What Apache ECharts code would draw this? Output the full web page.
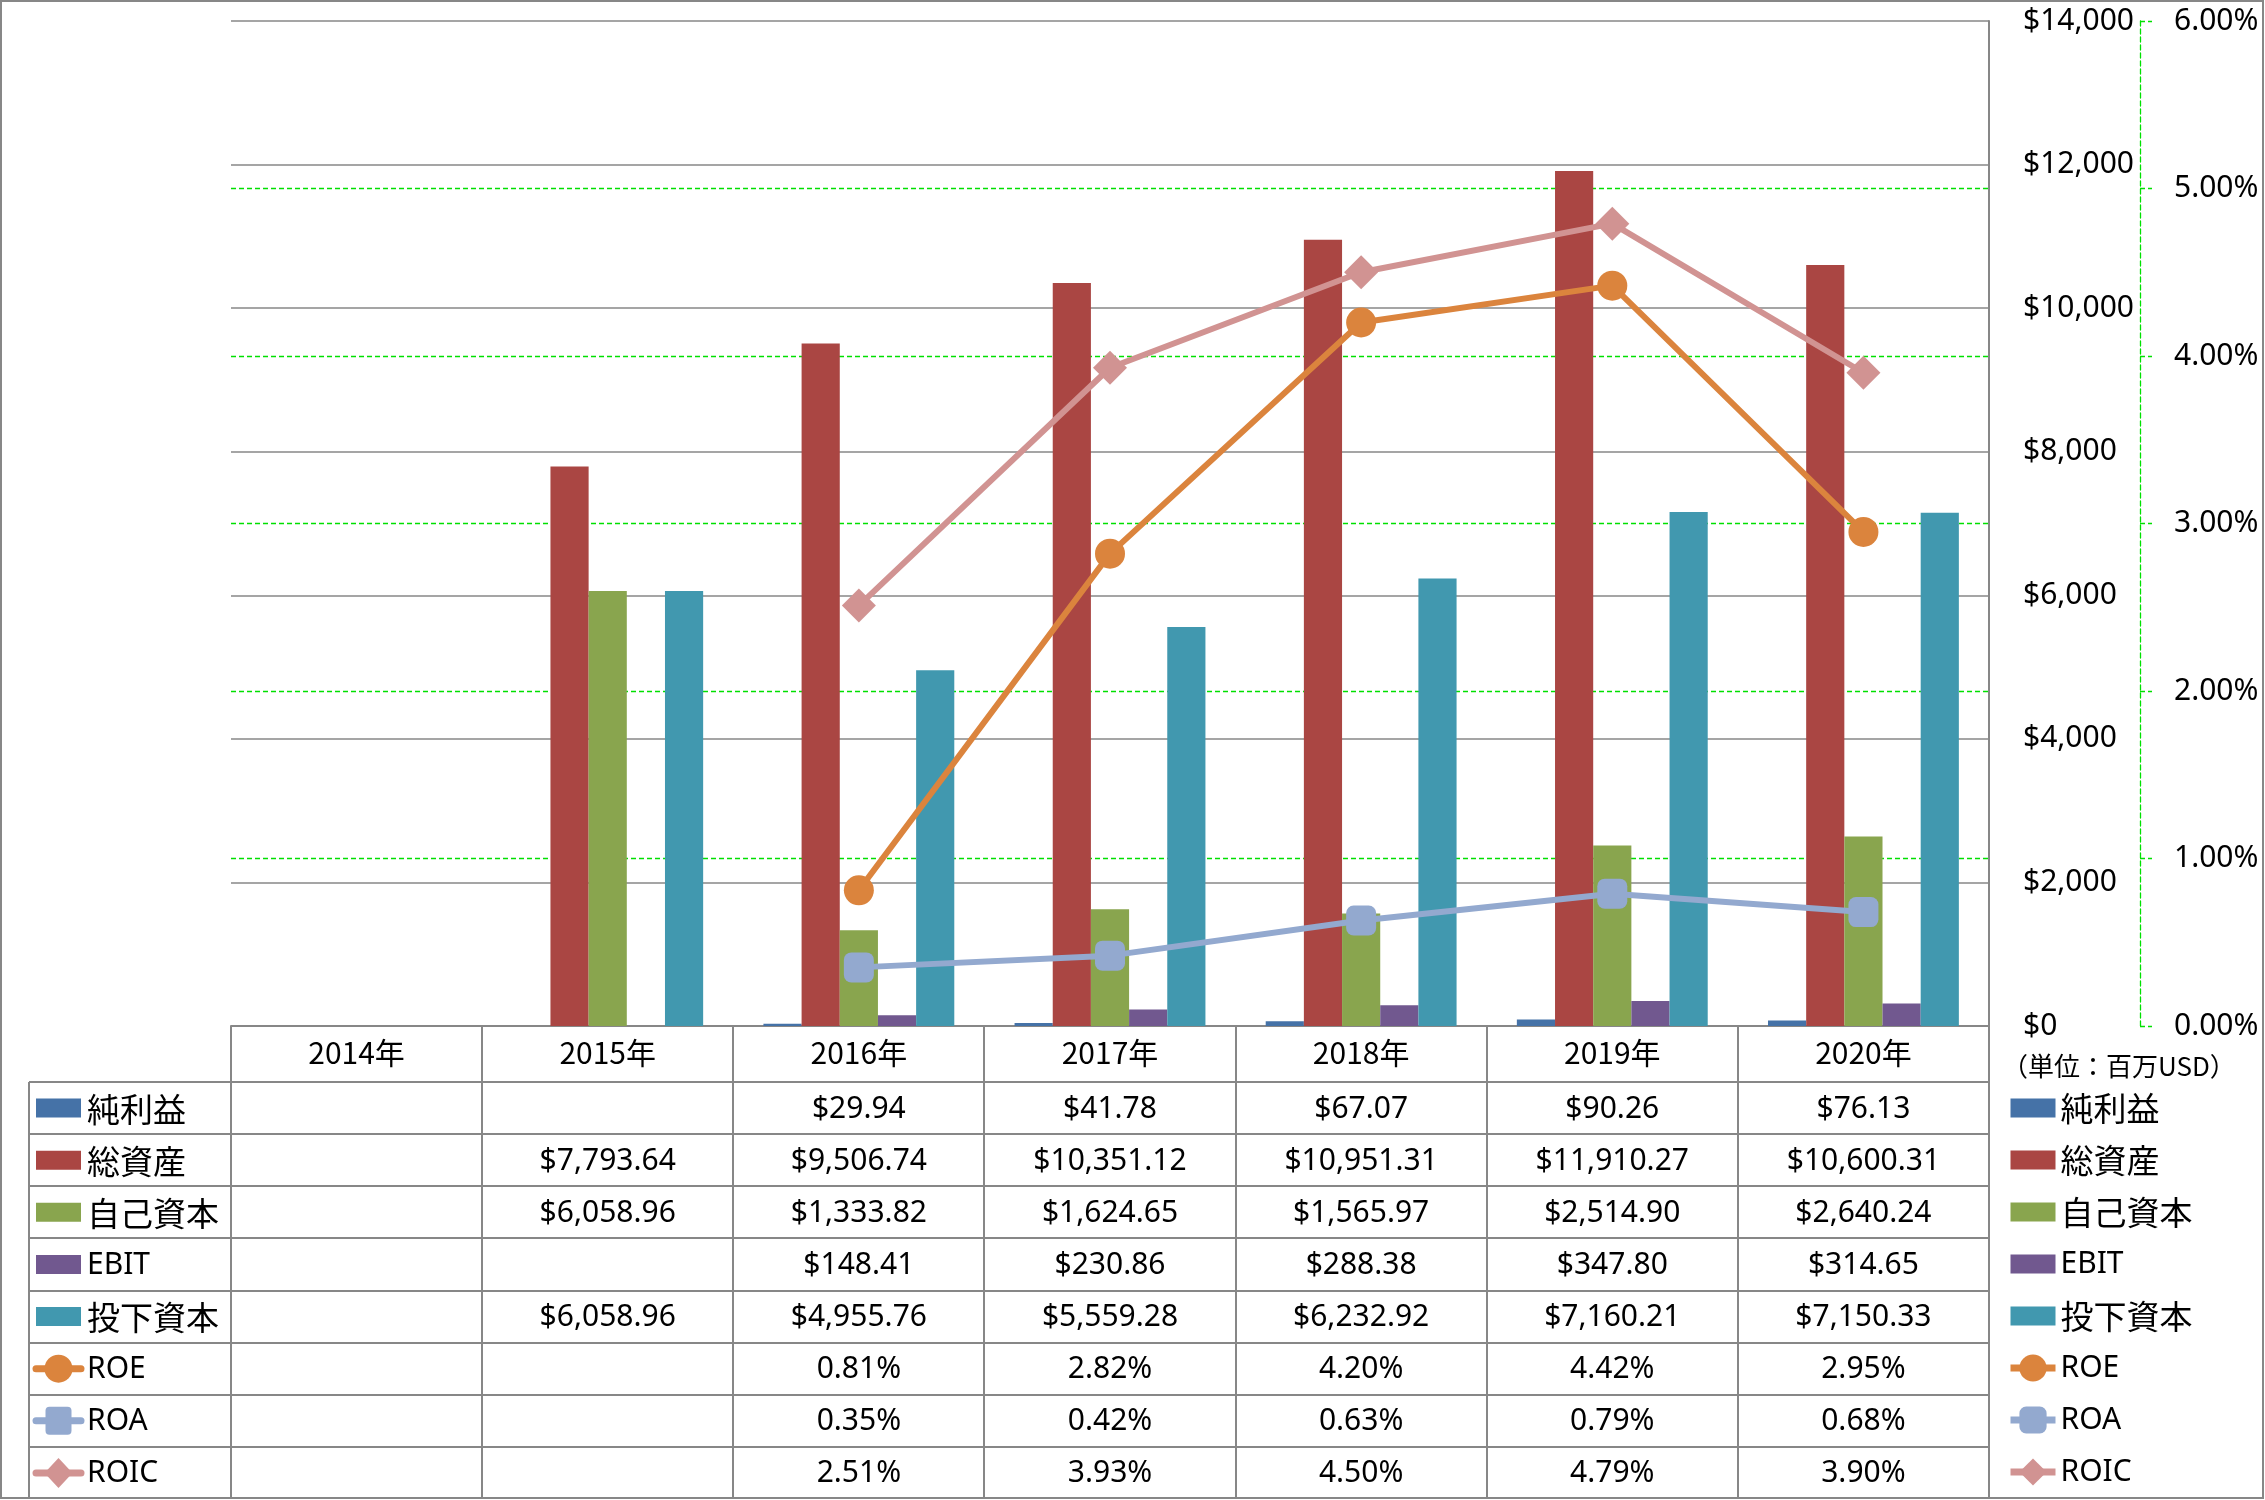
<!DOCTYPE html>
<html><head><meta charset="utf-8">
<script src="https://cdn.jsdelivr.net/npm/echarts@6/dist/echarts.min.js"></script>
<style>html,body{margin:0;padding:0;background:#fff}#c{width:2265px;height:1500px}</style>
</head><body><div id="c"></div>
<script>
const categories = ['2014年','2015年','2016年','2017年','2018年','2019年','2020年'];
const netIncome = [null,null,29.94,41.78,67.07,90.26,76.13];
const totalAssets = [null,7793.64,9506.74,10351.12,10951.31,11910.27,10600.31];
const equity = [null,6058.96,1333.82,1624.65,1565.97,2514.90,2640.24];
const ebit = [null,null,148.41,230.86,288.38,347.80,314.65];
const investedCapital = [null,6058.96,4955.76,5559.28,6232.92,7160.21,7150.33];
const roe = [null,null,0.81,2.82,4.20,4.42,2.95];
const roa = [null,null,0.35,0.42,0.63,0.79,0.68];
const roic = [null,null,2.51,3.93,4.50,4.79,3.90];
const seriesNames = ['純利益','総資産','自己資本','EBIT','投下資本','ROE','ROA','ROIC'];
const unitLabel = '（単位：百万USD）';

const COLORS = ['#4572A7','#AA4643','#89A54E','#71588F','#4198AF','#DB843D','#93A9CF','#D19392'];
const GRAY = '#878787';
const GREEN = '#00e000';
const FONT = "'Noto Sans', 'Noto Sans CJK JP', sans-serif";
const CJKFONT = "'Noto Sans CJK JP', 'Noto Sans', sans-serif";

const barData = [netIncome, totalAssets, equity, ebit, investedCapital];
const lineData = [roe, roa, roic];
const lineSymbols = ['circle','roundRect','diamond'];
const lineSymbolSizes = [30, 30, 34];

function money(v){ return v == null ? '' : '$' + v.toLocaleString('en-US',{minimumFractionDigits:2, maximumFractionDigits:2}); }
function pct(v){ return v == null ? '' : v.toFixed(2) + '%'; }
function isLatin(n){ return /^[A-Za-z]+$/.test(n); }

const chart = echarts.init(document.getElementById('c'), null, {renderer:'canvas'});

const series = [];
barData.forEach((d,i)=>{
  series.push({name:seriesNames[i], type:'bar', yAxisIndex:0, data:d, barGap:'0%', barCategoryGap:'24%',
    itemStyle:{color:COLORS[i]}});
});
lineData.forEach((d,i)=>{
  series.push({name:seriesNames[5+i], type:'line', yAxisIndex:1, data:d,
    symbol:lineSymbols[i], symbolSize:lineSymbolSizes[i], showAllSymbol:true,
    lineStyle:{color:COLORS[5+i], width:6}, itemStyle:{color:COLORS[5+i]}, z:3});
});

const legendData = seriesNames.map((n,i)=> i < 5 ? {name:n, icon:'path://M0,0H45V19H0Z'} : {name:n});

chart.setOption({
  animation:false,
  backgroundColor:'#fff',
  textStyle:{fontFamily:FONT},
  grid:{left:231, right:276, top:21, bottom:474, containLabel:false},
  legend:{
    orient:'vertical', left:2007, top:1088, padding:0, itemWidth:45, itemHeight:34, itemGap:12,
    data: legendData,
    lineStyle:{width:7},
    formatter: n => isLatin(n) ? '{l|'+n+'}' : '{c|'+n+'}',
    textStyle:{color:'#000', lineHeight:40,
      rich:{ l:{fontSize:30, lineHeight:40, fontFamily:FONT, color:'#000'},
             c:{fontSize:33, lineHeight:40, fontFamily:CJKFONT, color:'#000'} } }
  },
  xAxis:{type:'category', data:categories,
    axisLine:{show:true, lineStyle:{color:GRAY, width:2}},
    axisTick:{show:false},
    axisLabel:{fontSize:30, color:'#000', margin:12, fontFamily:CJKFONT},
    splitLine:{show:false}},
  yAxis:[
    {type:'value', position:'right', min:0, max:14000, interval:2000,
     axisLine:{show:true, lineStyle:{color:GRAY, width:2}},
     axisTick:{show:false},
     axisLabel:{fontSize:30, color:'#000', margin:34, formatter:v=>'$'+v.toLocaleString('en-US')},
     splitLine:{show:true, lineStyle:{color:GRAY, width:1.5}}},
    {type:'value', position:'right', offset:151, min:0, max:6, interval:1,
     axisLine:{show:true, lineStyle:{color:GREEN, width:1.3, type:[5,3]}},
     axisTick:{show:true, inside:false, length:12, lineStyle:{color:GREEN, width:1.3, type:[5,3]}},
     axisLabel:{fontSize:30, color:'#000', margin:34, formatter:v=>v.toFixed(2)+'%'},
     splitLine:{show:true, showMinLine:false, showMaxLine:false, lineStyle:{color:GREEN, width:1.3, type:[5,3]}}}
  ],
  series: series
});

function buildTable(){
  const g = [];
  const c0 = chart.convertToPixel({xAxisIndex:0}, 0);
  const c1 = chart.convertToPixel({xAxisIndex:0}, 1);
  const cw = c1 - c0;
  const n = categories.length;
  const plotLeft = c0 - cw/2;
  const plotRight = c0 + cw*(n-0.5);
  const axisY = chart.convertToPixel({yAxisIndex:0}, 0);
  const KEY_LEFT = 29, BOTTOM = 1499, HEADER_H = 56;
  const headerBottom = axisY + HEADER_H;
  const rowH = (BOTTOM - headerBottom) / seriesNames.length;
  const lineStyle = {stroke:GRAY, lineWidth:2};

  g.push({type:'rect', shape:{x:1, y:1, width:2262, height:1497}, style:{fill:null, stroke:GRAY, lineWidth:2}, z:100});
  for (let i=0;i<seriesNames.length;i++){
    const y = Math.round(headerBottom + i*rowH);
    g.push({type:'line', shape:{x1:KEY_LEFT, y1:y, x2:plotRight, y2:y}, style:lineStyle, z:50});
  }
  g.push({type:'line', shape:{x1:KEY_LEFT, y1:headerBottom, x2:KEY_LEFT, y2:BOTTOM}, style:lineStyle, z:50});
  for (let j=0;j<=n;j++){
    const x = Math.round(plotLeft + j*cw);
    g.push({type:'line', shape:{x1:x, y1:axisY, x2:x, y2:BOTTOM}, style:lineStyle, z:50});
  }
  const allData = barData.concat(lineData);
  seriesNames.forEach((name,i)=>{
    const cy = headerBottom + (i+0.5)*rowH;
    const col = COLORS[i];
    if (i < 5){
      g.push({type:'rect', shape:{x:36, y:cy-9.5, width:45, height:19}, style:{fill:col}, z:60});
    } else {
      g.push({type:'line', shape:{x1:36, y1:cy, x2:81, y2:cy}, style:{stroke:col, lineWidth:7, lineCap:'round'}, z:60});
      const cx = 58.5;
      if (i===5) g.push({type:'circle', shape:{cx:cx, cy:cy, r:14}, style:{fill:col}, z:61});
      if (i===6) g.push({type:'rect', shape:{x:cx-13, y:cy-14, width:26, height:28, r:4}, style:{fill:col}, z:61});
      if (i===7) g.push({type:'polygon', shape:{points:[[cx,cy-15],[cx+14,cy],[cx,cy+15],[cx-14,cy]]}, style:{fill:col}, z:61});
    }
    g.push({type:'text', style:{text:name, x:87, y:cy+1, fill:'#000',
      font: isLatin(name) ? ('30px '+FONT) : ('33px '+CJKFONT), align:'left', verticalAlign:'middle'}, z:60});
    const d = allData[i];
    for (let j=0;j<n;j++){
      const v = d[j];
      if (v == null) continue;
      const txt = i < 5 ? money(v) : pct(v);
      g.push({type:'text', style:{text:txt, x:c0 + j*cw, y:cy+1, fill:'#000', font:'30px '+FONT,
        align:'center', verticalAlign:'middle'}, z:60});
    }
  });
  g.push({type:'text', style:{text:unitLabel, x:2002, y:1066, fill:'#000', font:'26px '+CJKFONT,
    align:'left', verticalAlign:'middle'}, z:60});
  chart.setOption({graphic:g});
}
buildTable();
</script>
</body></html>
